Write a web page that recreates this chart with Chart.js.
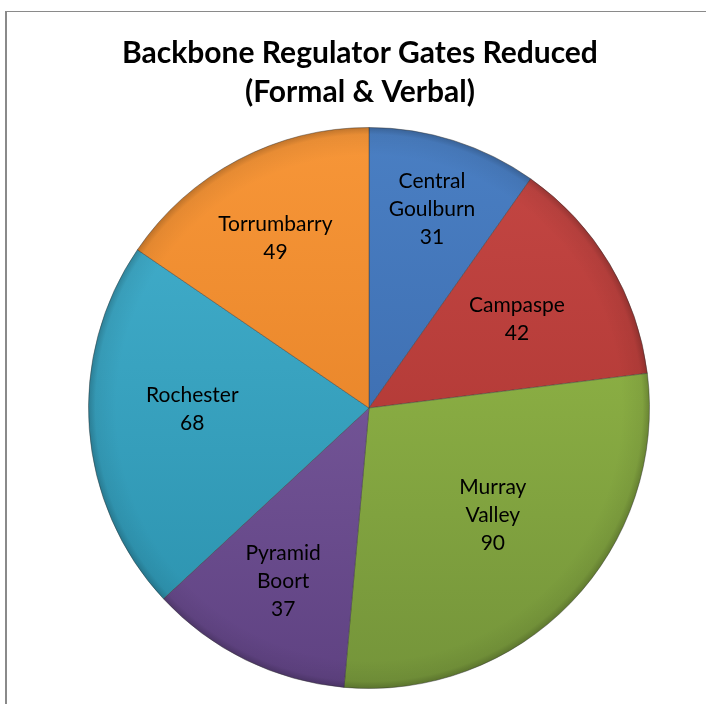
<!DOCTYPE html>
<html>
<head>
<meta charset="utf-8">
<script src="https://cdn.jsdelivr.net/npm/chart.js@4.4.1/dist/chart.umd.min.js"></script>
<style>
  html, body { margin: 0; padding: 0; background: #ffffff; }
  #wrap { position: relative; width: 706px; height: 704px; overflow: hidden; }
  #frame { position: absolute; left: 5px; top: 11px; width: 800px; height: 800px;
           border-left: 2px solid #8a8a8a; border-top: 1px solid #8a8a8a; box-sizing: border-box; }
  canvas { position: absolute; left: 0; top: 0; }
</style>
</head>
<body>
<div id="wrap">
  <div id="frame"></div>
  <canvas id="c" width="706" height="704"></canvas>
</div>
<script>
const titleLines = ["Backbone Regulator Gates Reduced", "(Formal & Verbal)"];
const categories = ["Central Goulburn", "Campaspe", "Murray Valley", "Pyramid Boort", "Rochester", "Torrumbarry"];
const values = [31, 42, 90, 37, 68, 49];

// style (not data)
const colorTop    = ["#4a7fc3", "#c54744", "#9bc14a", "#8464a8", "#44b1cf", "#f79638"];
const colorBottom = ["#3462a4", "#a6312d", "#74943a", "#5f4282", "#2a90ac", "#de7a20"];
const labelRadiusFrac = [0.743, 0.615, 0.585, 0.688, 0.63, 0.69];
const labelAngleShiftDeg = [0, 0, -3, 0.3, 4, -1.1];

function sliceGradient(ctx, i) {
  const chart = ctx.chart;
  const area = chart.chartArea;
  if (!area) return colorTop[i];
  const g = chart.ctx.createLinearGradient(0, area.top, 0, area.bottom);
  g.addColorStop(0, colorTop[i]);
  g.addColorStop(1, colorBottom[i]);
  return g;
}

const titlePlugin = {
  id: 'titleText',
  afterDraw(chart) {
    const c = chart.ctx;
    c.save();
    c.fillStyle = '#000000';
    c.font = 'bold 30px Lato';
    c.textAlign = 'center';
    c.textBaseline = 'middle';
    c.fillText(titleLines[0], 360, 53);
    c.fillText(titleLines[1], 360, 92);
    c.restore();
  }
};

const rimPlugin = {
  id: 'rimShade',
  afterDatasetsDraw(chart) {
    const meta = chart.getDatasetMeta(0);
    if (!meta.data.length) return;
    const a = meta.data[0];
    const c = chart.ctx;
    const R = a.outerRadius;
    c.save();
    const g = c.createRadialGradient(a.x, a.y, R * 0.9, a.x, a.y, R);
    g.addColorStop(0, 'rgba(0,0,0,0)');
    g.addColorStop(0.75, 'rgba(0,0,0,0.06)');
    g.addColorStop(1, 'rgba(0,0,0,0.22)');
    c.fillStyle = g;
    c.beginPath();
    c.arc(a.x, a.y, R, 0, Math.PI * 2);
    c.fill();
    c.restore();
  }
};

const labelPlugin = {
  id: 'sliceLabels',
  afterDraw(chart) {
    const meta = chart.getDatasetMeta(0);
    const c = chart.ctx;
    c.save();
    c.fillStyle = '#000000';
    c.font = '21px Lato';
    c.textAlign = 'center';
    c.textBaseline = 'middle';
    const lh = 28;
    meta.data.forEach((arc, i) => {
      const p = arc.getProps(['x', 'y', 'startAngle', 'endAngle', 'outerRadius'], true);
      const mid = (p.startAngle + p.endAngle) / 2 + labelAngleShiftDeg[i] * Math.PI / 180;
      const r = p.outerRadius * labelRadiusFrac[i];
      const cx = p.x + Math.cos(mid) * r;
      const cy = p.y + Math.sin(mid) * r;
      const lines = categories[i].split(' ').concat([String(values[i])]);
      const top = cy - (lines.length - 1) * lh / 2;
      lines.forEach((t, k) => c.fillText(t, cx, top + k * lh));
    });
    c.restore();
  }
};

new Chart(document.getElementById('c'), {
  type: 'pie',
  data: {
    labels: categories,
    datasets: [{
      data: values,
      backgroundColor: (ctx) => sliceGradient(ctx, ctx.dataIndex),
      borderColor: 'rgba(60,60,60,0.45)',
      borderWidth: 1
    }]
  },
  options: {
    responsive: false,
    animation: false,
    layout: { padding: { top: 127, bottom: 15, left: 88, right: 56 } },
    plugins: {
      legend: { display: false },
      tooltip: { enabled: false },
      title: { display: false }
    }
  },
  plugins: [rimPlugin, labelPlugin, titlePlugin]
});
</script>
</body>
</html>
